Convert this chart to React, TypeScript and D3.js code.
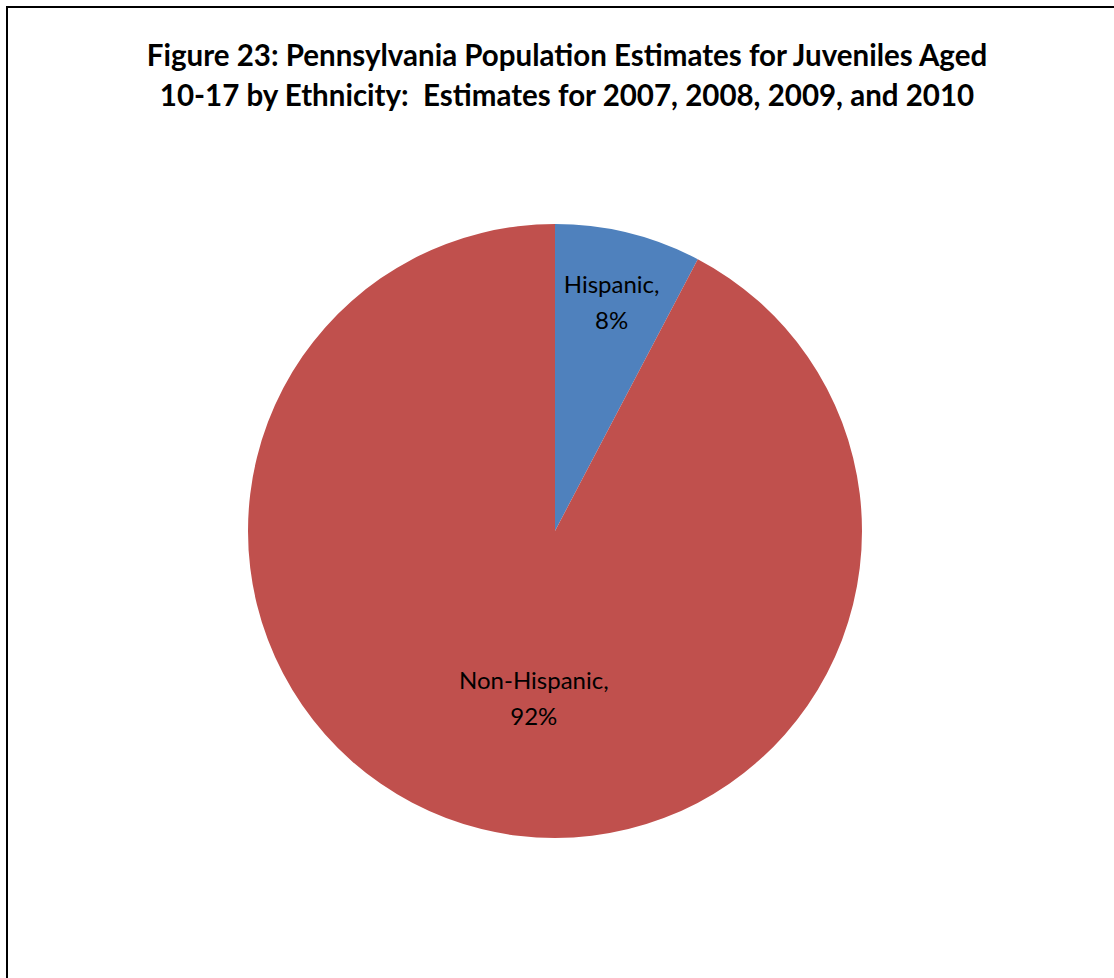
import { useEffect, useRef } from "react";
import * as d3 from "d3";

// slice values (share of juveniles, %)
const categories = ["Hispanic", "Non-Hispanic"];
const values = [7.7, 92.3];
const sliceLabels = ["8%", "92%"];
const colors = ["#4F81BD", "#C0504D"];
const titleLines = [
  "Figure 23: Pennsylvania Population Estimates for Juveniles Aged",
  "10-17 by Ethnicity:  Estimates for 2007, 2008, 2009, and 2010",
];

const W = 1114;
const H = 978;

export default function App() {
  const ref = useRef<SVGSVGElement>(null);

  useEffect(() => {
    if (!ref.current) return;
    const svg = d3.select(ref.current);
    svg.selectAll("*").remove();

    // chart frame (open to the right and bottom, like the crop)
    svg
      .append("path")
      .attr("d", `M7,${H + 5} L7,7 L${W + 5},7`)
      .attr("fill", "none")
      .attr("stroke", "#000")
      .attr("stroke-width", 2);

    const title = svg
      .append("text")
      .attr("text-anchor", "middle")
      .attr("font-family", "Lato, 'Open Sans', sans-serif")
      .attr("font-weight", "bold")
      .attr("font-size", 29.5)
      .attr("fill", "#000")
      .style("white-space", "pre");
    titleLines.forEach((line, i) => {
      title
        .append("tspan")
        .attr("x", 567)
        .attr("y", 66 + i * 40)
        .text(line);
    });

    const cx = 555;
    const cy = 531;
    const radius = 307;

    const data = categories.map((c, i) => ({ name: c, value: values[i], label: sliceLabels[i], color: colors[i] }));
    type D = (typeof data)[number];

    const pie = d3.pie<D>().value((d) => d.value).sort(null);
    const arc = d3.arc<d3.PieArcDatum<D>>().innerRadius(0).outerRadius(radius);

    const g = svg.append("g").attr("transform", `translate(${cx},${cy})`);
    const arcs = pie(data);

    g.selectAll("path")
      .data(arcs)
      .enter()
      .append("path")
      .attr("d", arc)
      .attr("fill", (d) => d.data.color)
      .attr("stroke", "none");

    // label radius factor, like Excel's best-fit placement
    const labelFactor = [0.77, 0.56];
    const labelShift = [0, 20];

    arcs.forEach((d, i) => {
      const mid = (d.startAngle + d.endAngle) / 2;
      const r = radius * labelFactor[i];
      const x = Math.sin(mid) * r + labelShift[i];
      const y = -Math.cos(mid) * r;
      const t = g
        .append("text")
        .attr("text-anchor", "middle")
        .attr("font-family", "Lato, 'Open Sans', sans-serif")
        .attr("font-size", 24)
        .attr("fill", "#000");
      t.append("tspan").attr("x", x).attr("y", y - 9).text(`${d.data.name},`);
      t.append("tspan").attr("x", x).attr("y", y + 27).text(d.data.label);
    });
  }, []);

  return (
    <svg
      ref={ref}
      width={W}
      height={H}
      style={{ position: "absolute", left: 0, top: 0, background: "#fff" }}
    />
  );
}
